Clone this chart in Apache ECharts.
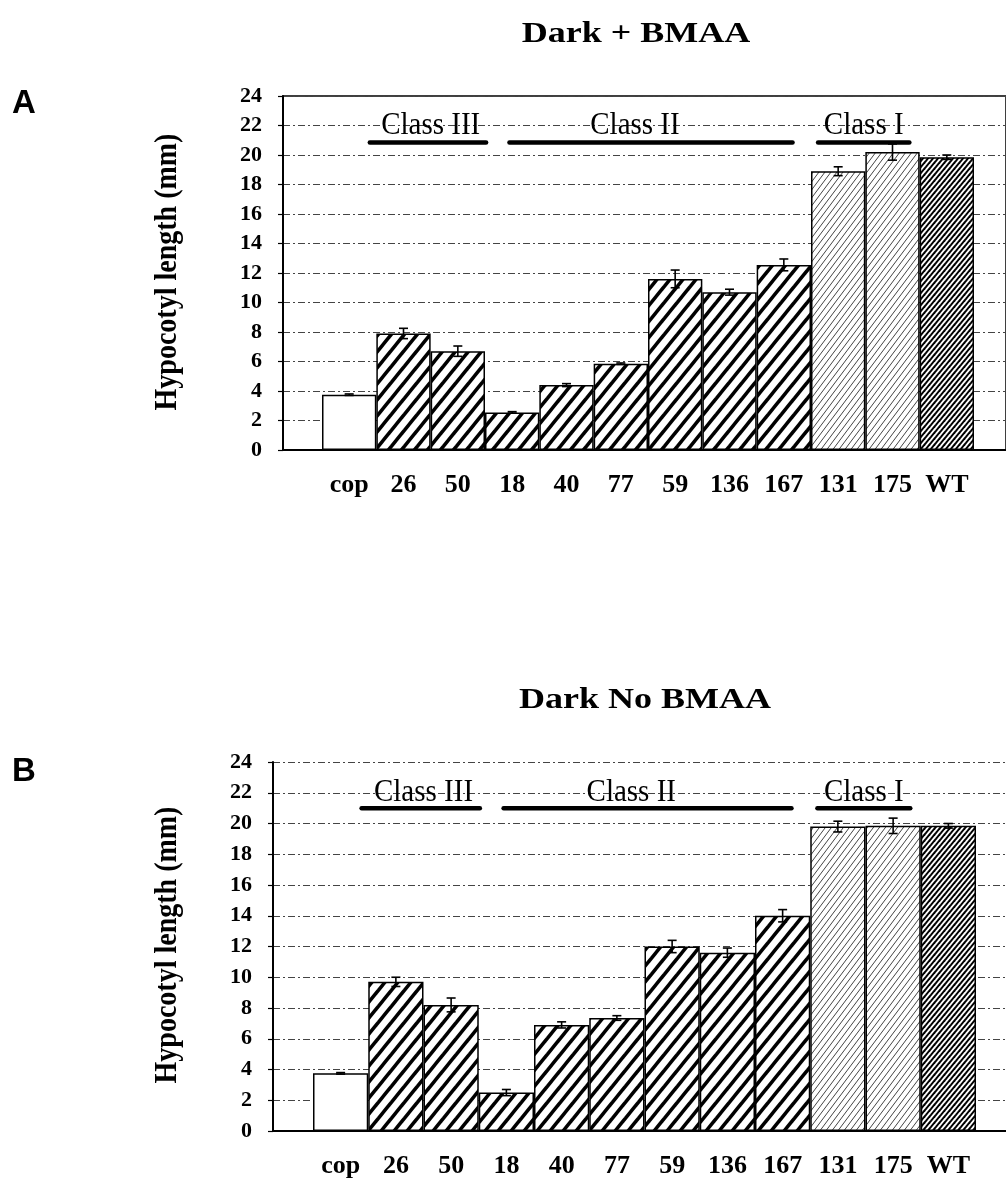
<!DOCTYPE html>
<html>
<head>
<meta charset="utf-8">
<script src="https://cdn.jsdelivr.net/npm/echarts@6/dist/echarts.min.js"></script>
<style>
  html, body { margin: 0; padding: 0; background: #ffffff; }
  #chart { width: 1006px; height: 1181px; }
</style>
</head>
<body>
<div id="chart"></div>
<script>
// ---------------- DATA ----------------
const categories = ['cop', '26', '50', '18', '40', '77', '59', '136', '167', '131', '175', 'WT'];
const yTicks = [0, 2, 4, 6, 8, 10, 12, 14, 16, 18, 20, 22, 24];

// Panel A: Dark + BMAA (mean hypocotyl length, mm) and error (mm)
const darkBmaaValues = [3.75, 7.9, 6.7, 2.55, 4.4, 5.85, 11.6, 10.7, 12.55, 18.9, 20.2, 19.85];
const darkBmaaErrors = [0.05, 0.35, 0.35, 0.05, 0.1, 0.05, 0.6, 0.2, 0.4, 0.3, 0.55, 0.15];

// Panel B: Dark No BMAA
const darkNoBmaaValues = [3.75, 9.7, 8.2, 2.5, 6.9, 7.35, 12.0, 11.6, 14.0, 19.8, 19.85, 19.85];
const darkNoBmaaErrors = [0.05, 0.3, 0.45, 0.2, 0.2, 0.15, 0.4, 0.3, 0.4, 0.35, 0.5, 0.15];

// Class groupings
const classNames = ['Class III', 'Class II', 'Class I'];
const classIMembers = ['131', '175'];
const controlCategory = 'cop';
const wildTypeCategory = 'WT';

// ---------------- STYLE / LAYOUT ----------------
const SERIF = '"Liberation Serif", "Times New Roman", serif';
// class annotation spans in category-band units (band i spans i-0.5 .. i+0.5)
const classLineSpans = [[0.38, 2.52], [2.95, 8.16], [8.63, 10.31]];
const classTextCenters = [1.5, 5.26, 9.47];

function makeStripeTile(w, h, lw, color) {
  const c = document.createElement('canvas');
  c.width = w; c.height = h;
  const ctx = c.getContext('2d');
  ctx.fillStyle = '#ffffff';
  ctx.fillRect(0, 0, w, h);
  ctx.strokeStyle = color;
  ctx.lineWidth = lw;
  ctx.lineCap = 'butt';
  for (let k = -1; k <= 1; k++) {
    ctx.beginPath();
    ctx.moveTo(k * w - w * 0.2, h * 1.2);
    ctx.lineTo((k + 1) * w + w * 0.2, -h * 0.2);
    ctx.stroke();
  }
  return c;
}
const stripeThick = makeStripeTile(13, 16, 3.6, '#000000');
const stripeFine = makeStripeTile(6, 8, 1.0, '#444444');
const stripeDense = makeStripeTile(5, 6, 2.0, '#000000');

function fillFor(cat) {
  if (cat === controlCategory) return '#ffffff';
  if (cat === wildTypeCategory) return { image: stripeDense, repeat: 'repeat' };
  if (classIMembers.indexOf(cat) >= 0) return { image: stripeFine, repeat: 'repeat' };
  return { image: stripeThick, repeat: 'repeat' };
}

function barData(values) {
  return values.map((v, i) => ({
    value: v,
    itemStyle: { color: fillFor(categories[i]), borderColor: '#000', borderWidth: 1.5 }
  }));
}

function errorRender(params, api) {
  const x = api.value(0), v = api.value(1), e = api.value(2);
  const top = api.coord([x, v + e]);
  const bot = api.coord([x, v - e]);
  const hw = 4.5;
  const st = { stroke: '#000', lineWidth: 1.6 };
  return {
    type: 'group',
    children: [
      { type: 'line', shape: { x1: top[0], y1: top[1], x2: bot[0], y2: bot[1] }, style: st },
      { type: 'line', shape: { x1: top[0] - hw, y1: top[1], x2: top[0] + hw, y2: top[1] }, style: st },
      { type: 'line', shape: { x1: bot[0] - hw, y1: bot[1], x2: bot[0] + hw, y2: bot[1] }, style: st }
    ]
  };
}

function classRenderFactory(lineValue, textValue) {
  return function (params, api) {
    const i = params.dataIndex;
    const c0 = api.coord([0, lineValue]);
    const bw = api.size([1, 0])[0];
    const span = classLineSpans[i];
    const x1 = c0[0] + span[0] * bw;
    const x2 = c0[0] + span[1] * bw;
    const ty = api.coord([0, textValue])[1];
    const tx = c0[0] + classTextCenters[i] * bw;
    return {
      type: 'group',
      children: [
        { type: 'line', shape: { x1: x1, y1: c0[1], x2: x2, y2: c0[1] },
          style: { stroke: '#000', lineWidth: 4.5, lineCap: 'round' } },
        { type: 'text', x: tx, y: ty, scaleY: 1.1,
          style: { text: classNames[i], font: '29px ' + SERIF, fill: '#000',
                   textAlign: 'center', textVerticalAlign: 'middle' } }
      ]
    };
  };
}

function frameAxes(gridIndex) {
  return {
    x: { type: 'value', gridIndex: gridIndex, min: 0, max: 1, show: true,
         axisLine: { show: true, onZero: false, lineStyle: { color: '#000', width: 2 } },
         axisTick: { show: false }, axisLabel: { show: false }, splitLine: { show: false } },
    y: { type: 'value', gridIndex: gridIndex, min: 0, max: 24, interval: 2,
         axisLine: { show: true, lineStyle: { color: '#000', width: 2 } },
         axisTick: { show: true, length: 5, lineStyle: { color: '#000', width: 1.2 } },
         axisLabel: { show: true, margin: 21, color: '#000',
                      fontFamily: SERIF, fontWeight: 'bold', fontSize: 22 },
         splitLine: { show: true, lineStyle: { color: '#444', width: 1, type: [7, 3, 2, 3] } } }
  };
}
function barAxes(gridIndex) {
  return {
    x: { type: 'category', gridIndex: gridIndex, data: categories,
         axisLine: { show: false }, axisTick: { show: false },
         axisLabel: { show: true, margin: 22, color: '#000', interval: 0,
                      fontFamily: SERIF, fontWeight: 'bold', fontSize: 26 } },
    y: { type: 'value', gridIndex: gridIndex, min: 0, max: 24, interval: 2, show: false,
         splitLine: { show: false } }
  };
}

const fA = frameAxes(0), bA = barAxes(1), fB = frameAxes(2), bB = barAxes(3);

const option = {
  backgroundColor: '#ffffff',
  animation: false,
  grid: [
    { left: 283, top: 96, right: -40, height: 354, show: true, borderColor: '#000', borderWidth: 1.5, backgroundColor: 'transparent' },
    { left: 322, top: 96, width: 652, height: 354 },
    { left: 273, top: 762, right: -40, height: 369 },
    { left: 313, top: 762, width: 663, height: 369 }
  ],
  xAxis: [fA.x, bA.x, fB.x, bB.x],
  yAxis: [fA.y, bA.y, fB.y, bB.y],
  series: [
    { type: 'bar', xAxisIndex: 1, yAxisIndex: 1, barWidth: '100%', barCategoryGap: '0%',
      data: barData(darkBmaaValues) },
    { type: 'custom', xAxisIndex: 1, yAxisIndex: 1, renderItem: errorRender,
      data: darkBmaaValues.map((v, i) => [i, v, darkBmaaErrors[i]]), z: 5 },
    { type: 'custom', xAxisIndex: 1, yAxisIndex: 1, renderItem: classRenderFactory(20.85, 22),
      data: classNames.map((n, i) => [i]), z: 6, clip: false },
    { type: 'bar', xAxisIndex: 3, yAxisIndex: 3, barWidth: '100%', barCategoryGap: '0%',
      data: barData(darkNoBmaaValues) },
    { type: 'custom', xAxisIndex: 3, yAxisIndex: 3, renderItem: errorRender,
      data: darkNoBmaaValues.map((v, i) => [i, v, darkNoBmaaErrors[i]]), z: 5 },
    { type: 'custom', xAxisIndex: 3, yAxisIndex: 3, renderItem: classRenderFactory(21.0, 22),
      data: classNames.map((n, i) => [i]), z: 6, clip: false }
  ],
  graphic: [
    { type: 'text', x: 636, y: 34, scaleX: 1.2,
      style: { text: 'Dark + BMAA', font: 'bold 30px ' + SERIF, fill: '#000', textAlign: 'center', textVerticalAlign: 'middle' } },
    { type: 'text', x: 645, y: 700, scaleX: 1.2,
      style: { text: 'Dark No BMAA', font: 'bold 30px ' + SERIF, fill: '#000', textAlign: 'center', textVerticalAlign: 'middle' } },
    { type: 'text', x: 24, y: 104,
      style: { text: 'A', font: 'bold 33px "Liberation Sans", Arial, sans-serif', fill: '#000', textAlign: 'center', textVerticalAlign: 'middle' } },
    { type: 'text', x: 24, y: 772,
      style: { text: 'B', font: 'bold 33px "Liberation Sans", Arial, sans-serif', fill: '#000', textAlign: 'center', textVerticalAlign: 'middle' } },
    { type: 'text', x: 168, y: 272, rotation: Math.PI / 2, scaleY: 1.15,
      style: { text: 'Hypocotyl length (mm)', font: 'bold 28px ' + SERIF, fill: '#000', textAlign: 'center', textVerticalAlign: 'middle' } },
    { type: 'text', x: 168, y: 945, rotation: Math.PI / 2, scaleY: 1.15,
      style: { text: 'Hypocotyl length (mm)', font: 'bold 28px ' + SERIF, fill: '#000', textAlign: 'center', textVerticalAlign: 'middle' } }
  ]
};

const chart = echarts.init(document.getElementById('chart'), null, { renderer: 'canvas' });
chart.setOption(option);
</script>
</body>
</html>
